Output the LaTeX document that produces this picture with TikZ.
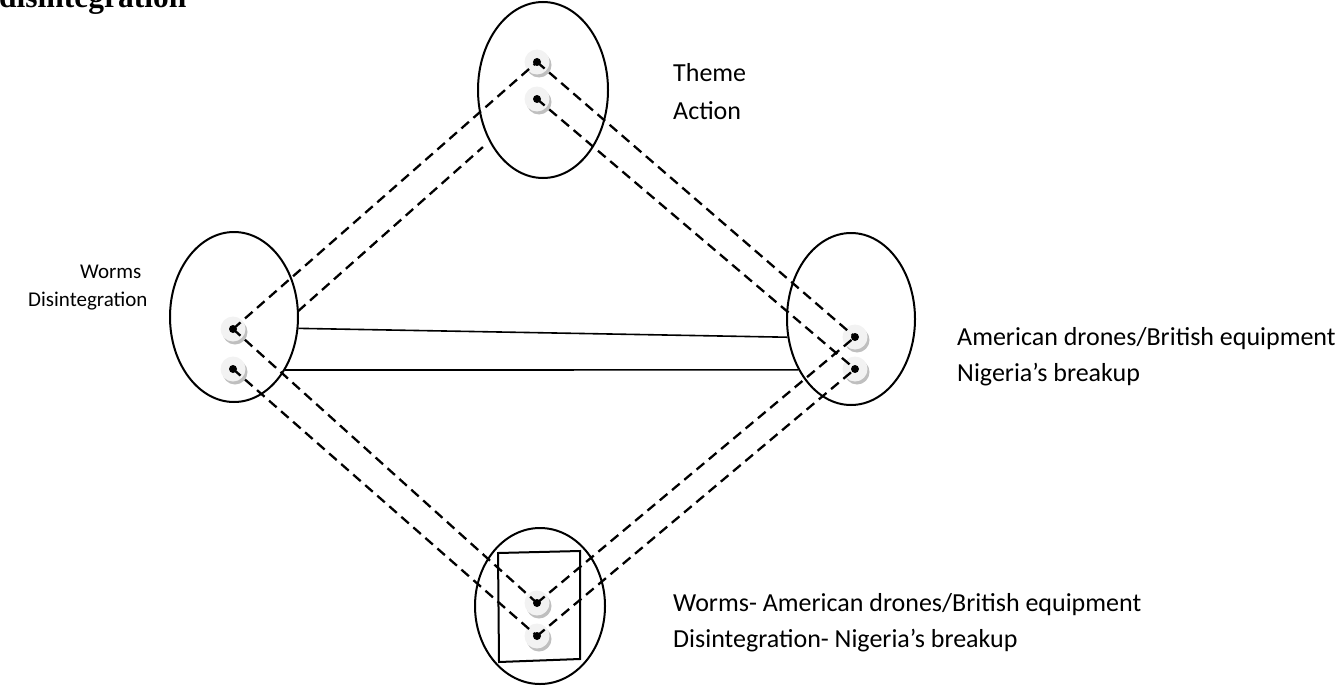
\documentclass[tikz,border=0pt]{standalone}
\usepackage{fontspec}
\newfontfamily\labelfont{Carlito}
\newfontfamily\titlefont{Liberation Serif}
\usetikzlibrary{shapes.geometric,shadows,calc}

\begin{document}
\begin{tikzpicture}[x=1pt,y=-1pt,
  oval/.style={draw, ellipse, line width=2pt, inner sep=0pt},
  spot/.style={circle, minimum size=25pt, inner sep=0pt, fill=gray!10,
    drop shadow={shadow xshift=2pt, shadow yshift=-3pt, fill=gray!50, opacity=1},
    path picture={\fill[black] (path picture bounding box.center) circle (4pt);}},
  link/.style={draw, dash pattern=on 10pt off 6pt, line width=2.3pt},
  bar/.style={draw, line width=1.6pt},
  lbl/.style={anchor=base west, inner sep=0pt, font=\labelfont\fontsize{26}{31}\selectfont},
  sidelbl/.style={anchor=base west, inner sep=0pt, font=\labelfont\fontsize{21}{25}\selectfont},
]
\useasboundingbox (0,0) rectangle (1343,685);

% heading, partly above the top edge
\node[anchor=base west, inner sep=0pt, font=\titlefont\bfseries\fontsize{31.5}{36}\selectfont]
  (title) at (-1,8) {disintegration};

% the four clusters
\node[oval, minimum width=130pt, minimum height=176pt] (T) at (543,90) {};
\node[oval, minimum width=128pt, minimum height=170pt] (L) at (234,317) {};
\node[oval, minimum width=128pt, minimum height=172pt] (R) at (851,319) {};
\node[oval, minimum width=130pt, minimum height=156pt] (B) at (540,606) {};

% frame inside the lower cluster
\draw[line width=2pt] (498,553) -- (580,551) -- (580,659) -- (499,662) -- cycle;

% solid ties between the side clusters
\draw[bar] (L.-10.7) -- (R.196);
\draw[bar] (L.-46.7) -- (R.224.7);

% element spots
\node[spot] (t1) at (537,62) {};
\node[spot] (t2) at (537,99) {};
\node[spot] (l1) at (233,329) {};
\node[spot] (l2) at (233,369) {};
\node[spot] (r1) at (855,337) {};
\node[spot] (r2) at (855,369) {};
\node[spot] (b1) at (537,603) {};
\node[spot] (b2) at (537,636) {};

% dashed mappings
\draw[link] (l1.center) -- (t1.center);
\draw[link] ($(l2.center)!0.214!(t2.center)$) -- ($(l2.center)!0.822!(t2.center)$);
\draw[link] (t1.center) -- (r1.center);
\draw[link] (t2.center) -- (r2.center);
\draw[link] (l1.center) -- (b1.center);
\draw[link] (l2.center) -- (b2.center);
\draw[link] (b1.center) -- (r1.center);
\draw[link] (b2.center) -- (r2.center);

% labels
\node[lbl] (theme) at (673,81.7) {Theme};
\node[lbl] (action) at (673,119.3) {Action};
\node[sidelbl] (worms) at (80,278) {Worms};
\node[sidelbl] (disint) at (28,306) {Disintegration};
\node[lbl] (amer) at (957,345) {American drones/British equipment};
\node[lbl] (nigeria) at (957,381) {Nigeria’s breakup};
\node[lbl] (pair1) at (673,611) {Worms- American drones/British equipment};
\node[lbl] (pair2) at (673,647) {Disintegration- Nigeria’s breakup};
\end{tikzpicture}
\end{document}
